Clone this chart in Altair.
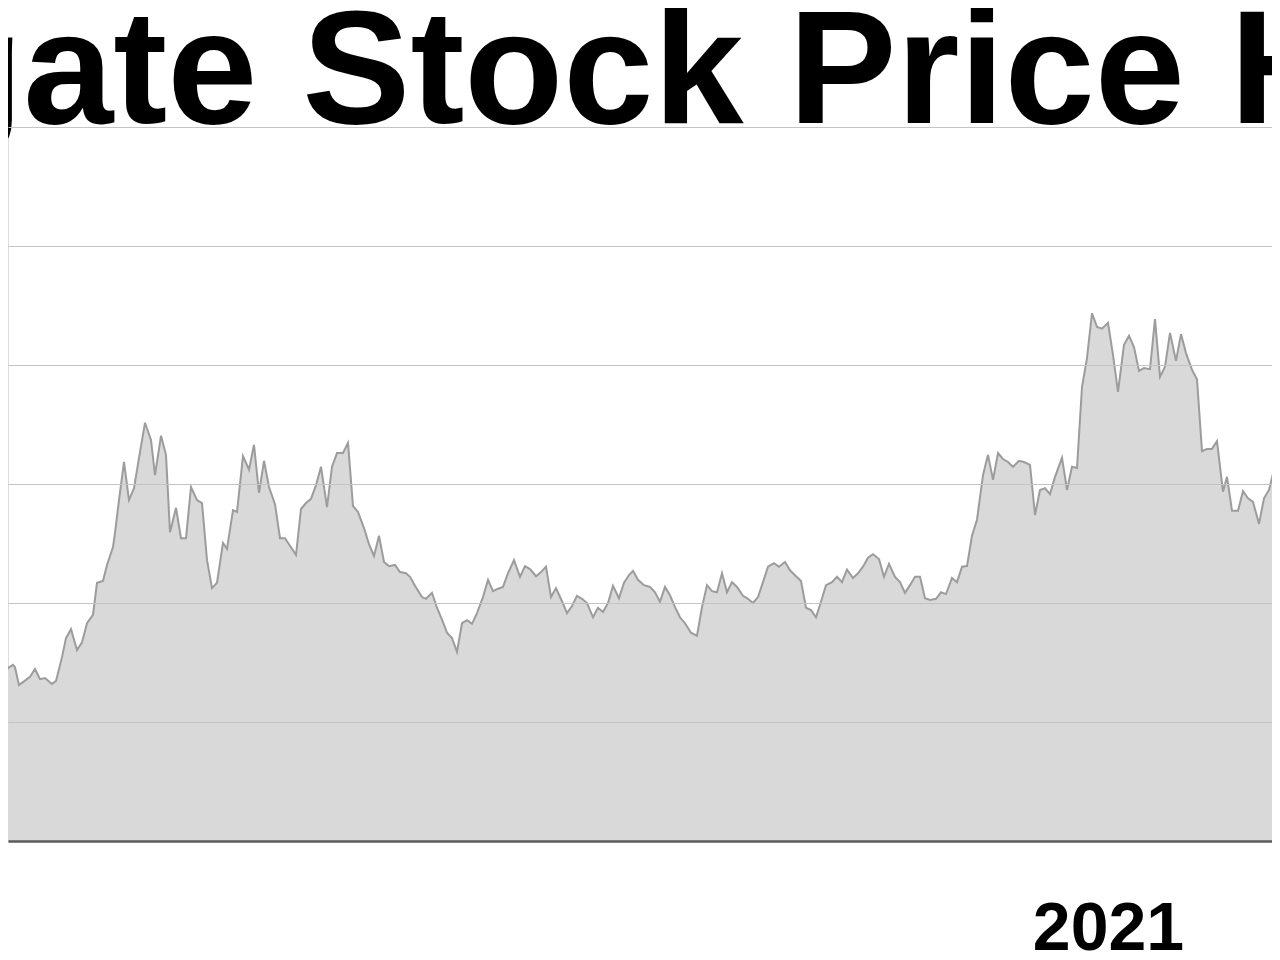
import altair as alt
import pandas as pd

TITLE = "Seagate Stock Price History"
START = "2020-04-01"

DAYS = [-2, -1.25, 0, 1.25, 1.75, 2.75, 3.75, 5.5, 6.75, 8, 9.25, 11, 12, 13.5, 14.5, 15.75,
        17.25, 18.5, 19.75, 21.25, 22.25, 23.75, 24.75, 26.25, 26.75, 27.75, 29, 30.25, 31.5,
        32.75, 34.25, 35.75, 36.75, 38.25, 39.5, 40.5, 42, 43.25, 44.5, 45.75, 47.25, 48.5,
        49.75, 51, 52.25, 53.75, 54.75, 56.25, 57.25, 58.75, 60.25, 61.5, 62.75, 64, 65.25,
        66.75, 68, 69.25, 72, 73.25, 74.5, 75.75, 77, 78.25, 79.75, 81, 82.25, 83.75, 85,
        86.25, 87.5, 89, 90.25, 91.5, 92.75, 94, 95.25, 96.75, 98, 99.5, 100.5, 101.75, 103.5,
        104.5, 106, 107.25, 108.75, 109.75, 111, 112.25, 113.5, 114.75, 116, 117.25, 118.75,
        120, 121.25, 122.5, 123.75, 125, 126.5, 128, 129.25, 130.5, 132, 133.25, 134.5,
        135.75, 137, 138.5, 139.75, 141, 142.25, 143.5, 144.75, 146.25, 147.5, 148.75, 150,
        151.25, 152.75, 154, 155.25, 156.25, 157.5, 159, 160.5, 161.75, 163, 164.25, 165.5,
        166.75, 168, 169.25, 170.75, 172.25, 173.5, 174.75, 176, 177.25, 178.5, 179.75, 181,
        182.25, 183.75, 185, 186.25, 187.5, 188.75, 190, 191.5, 192.75, 194.25, 195.5, 197,
        198.25, 199.5, 200.75, 202, 203.25, 204.5, 206, 207.25, 208.5, 209.75, 211.25, 212.5,
        213.75, 215, 216.25, 217.75, 219, 220.25, 221.75, 223, 224.25, 225.5, 226.75, 228,
        229.25, 230.5, 232, 233.25, 234.5, 236, 237.25, 238.5, 239.75, 241, 242.25, 243.75,
        245, 246.25, 247.5, 248.75, 250, 251.25, 252.75, 254, 255.5, 256.75, 258, 259.25,
        260.5, 261.75, 263.5, 264.75, 266, 267.25, 268.5, 269.75, 271, 272.25, 273.5, 275,
        276.25, 277.5, 279, 280.25, 281.5, 282.75, 284, 285.5, 286.75, 288, 289.25, 290.5,
        292, 293.25, 294.5, 296, 297.25, 298.5, 299.75, 301, 302.25, 303.75, 304.75, 306,
        307.5, 308.75, 310, 311.25, 312.75, 314, 315.25, 316.5, 318, 319.25]

PRICES = [27.1, 27.1, 29.1, 29.6, 29.2, 26.2, 26.7, 27.6, 28.9, 27.2, 27.4, 26.4, 26.9, 30.9,
          34.1, 35.6, 32.1, 33.4, 36.6, 38.0, 43.4, 43.7, 46.4, 49.4, 51.8, 57.3, 63.7, 57.3,
          59.3, 64.4, 70.3, 67.4, 61.5, 68.1, 64.9, 51.9, 56.0, 50.9, 50.9, 59.5, 57.3, 56.8,
          47.2, 42.5, 43.4, 50.1, 49.1, 55.6, 55.3, 64.7, 62.4, 66.6, 58.5, 63.9, 59.5, 56.6,
          50.9, 50.9, 48.1, 55.8, 56.8, 57.5, 59.8, 62.9, 56.1, 62.9, 65.2, 65.2, 66.9, 56.3,
          55.3, 52.6, 49.9, 47.9, 51.3, 46.9, 46.2, 46.4, 45.2, 45.0, 44.4, 42.9, 41.0, 40.7,
          41.7, 39.2, 36.8, 35.0, 34.1, 31.8, 36.6, 37.1, 36.5, 38.3, 41.0, 43.9, 42.0, 42.4,
          42.7, 45.0, 47.2, 44.4, 46.2, 45.7, 44.5, 45.2, 46.1, 41.0, 42.5, 40.3, 38.3, 39.5,
          41.2, 40.7, 40.0, 37.6, 39.2, 38.5, 40.0, 42.9, 40.8, 43.4, 44.7, 45.4, 43.9, 43.0,
          42.7, 41.8, 40.2, 42.7, 41.3, 39.3, 37.6, 36.6, 35.0, 34.5, 39.3, 43.0, 42.0, 41.8,
          45.0, 41.8, 43.5, 42.7, 41.2, 40.7, 40.0, 41.0, 43.5, 46.1, 46.7, 46.1, 46.9, 45.5,
          44.5, 43.7, 39.2, 38.8, 37.6, 40.2, 43.0, 43.5, 44.4, 43.5, 45.6, 44.2, 45.0, 46.1,
          47.6, 48.2, 47.4, 44.4, 46.6, 44.4, 43.5, 41.7, 43.0, 44.4, 44.4, 40.8, 40.5, 40.7,
          41.8, 41.5, 44.2, 43.5, 46.1, 46.2, 51.3, 54.0, 61.5, 64.9, 60.7, 65.2, 64.2, 63.7,
          62.9, 63.9, 63.7, 63.2, 54.8, 59.0, 59.3, 58.3, 61.2, 64.4, 59.0, 62.9, 62.7, 76.3,
          81.2, 88.7, 86.4, 86.1, 87.1, 81.7, 75.5, 83.4, 84.9, 83.0, 79.0, 79.5, 79.3, 87.7,
          78.0, 79.7, 85.4, 80.7, 85.2, 82.0, 79.2, 77.6, 65.5, 65.9, 65.9, 67.2, 58.7, 61.2,
          55.5, 55.5, 58.8, 57.6, 57.0, 53.3, 57.6, 59.0, 62.4, 65.4, 67.7]

Y_TICKS = [0, 20, 40, 60, 80, 100, 120]

dates = pd.Timestamp(START) + pd.to_timedelta(DAYS, unit="D")
df = pd.DataFrame({"date": dates, "price": PRICES})

x_enc = alt.X(
    "date:T",
    scale=alt.Scale(domain=[alt.DateTime(year=2020, month=4, date=1),
                            alt.DateTime(year=2021, month=2, date=11)]),
    axis=alt.Axis(
        values=[alt.DateTime(year=2021, month=1, date=1)],
        format="%Y", title=None, grid=False, ticks=False,
        domain=True, domainColor="#5a5a5a", domainWidth=2.5,
        labelFontSize=68, labelFont="Liberation Sans", labelFontWeight="bold",
        labelColor="#000000", labelPadding=54, labelFlush=False, zindex=2,
    ),
)
y_enc = alt.Y(
    "price:Q",
    scale=alt.Scale(domain=[0, 120], nice=False, zero=True),
    axis=alt.Axis(values=Y_TICKS, labels=False, ticks=False, domain=False, grid=True,
                  gridColor="#c4c4c4", gridWidth=1, title=None, zindex=1),
)

base = alt.Chart(df).encode(x=x_enc, y=y_enc)
area = base.mark_area(color="#d9d9d9", clip=True)
line = base.mark_line(color="#9c9c9c", strokeWidth=2, clip=True)

title_df = pd.DataFrame({"t": [TITLE]})
title = alt.Chart(title_df).mark_text(
    font="Liberation Sans", fontWeight="bold", fontSize=162,
    align="left", baseline="alphabetic", color="#000000",
).encode(text="t:N", x=alt.value(-372), y=alt.value(-4))

chart = alt.layer(area, line, title).properties(
    width=1264, height=714,
    autosize=alt.AutoSizeParams(type="none"),
    padding={"left": 0, "top": 119, "right": 0, "bottom": 112},
).configure_view(strokeWidth=0).configure(background="#ffffff")

chart.save("out.html", embed_options={"renderer": "svg", "actions": False})
